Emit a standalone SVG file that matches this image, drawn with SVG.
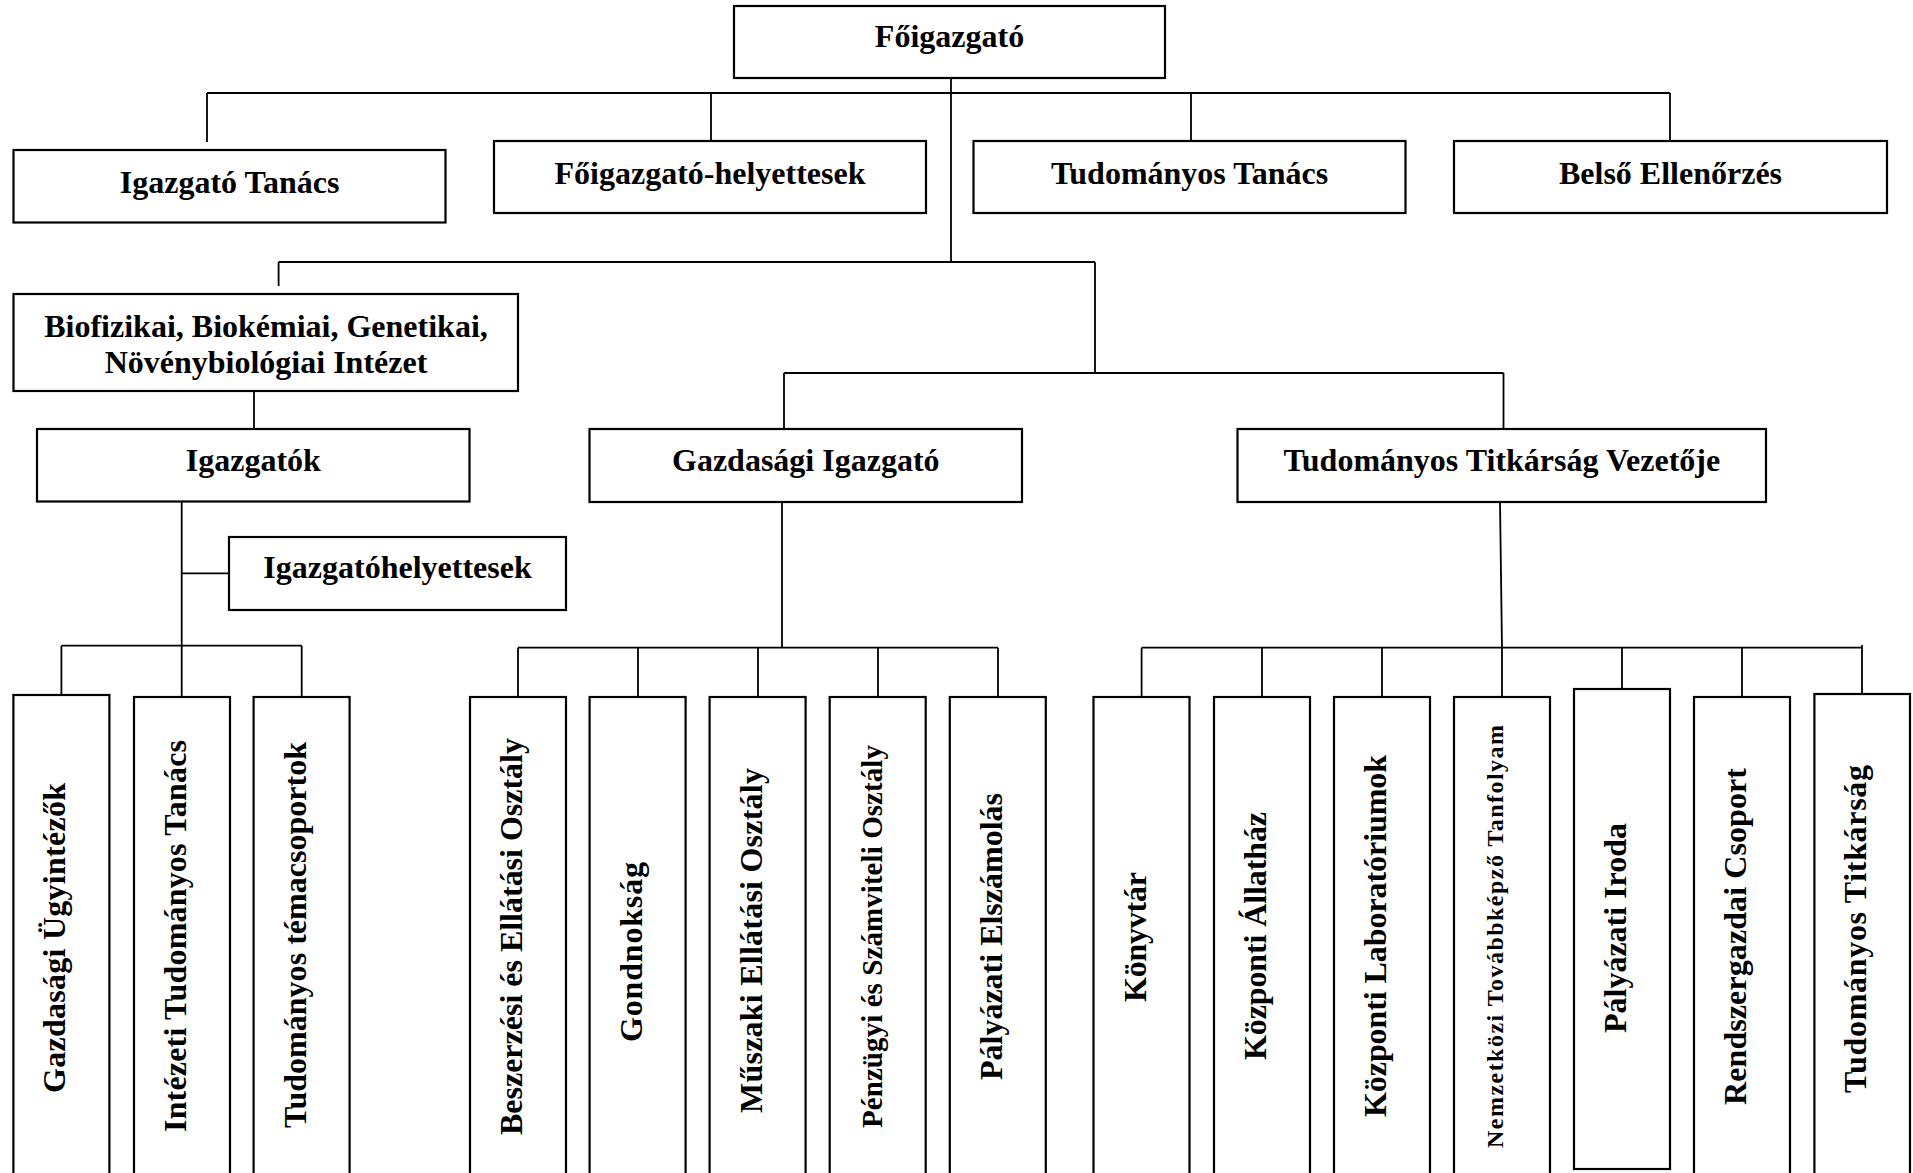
<svg xmlns="http://www.w3.org/2000/svg" width="1913" height="1173" viewBox="0 0 1913 1173">
<style>
.box{fill:#fff;stroke:#000;stroke-width:2.2}
.c{fill:none;stroke:#000;stroke-width:1.8}
.t{font-family:"Liberation Serif","Times New Roman",serif;font-weight:bold;font-size:32px;fill:#000;text-anchor:middle}
.s{font-size:24px}
.m{font-size:29px}
</style>
<rect width="1913" height="1173" fill="#fff"/>
<g id="connectors">
<path class="c" d="M951,78V262"/>
<path class="c" d="M207,93H1670M207,93V142M711,93V141M1191,93V141M1670,93V141"/>
<path class="c" d="M278.6,262H1095M278.6,262V286M1095,262V373"/>
<path class="c" d="M784,373H1503.5M784,373V429M1503.5,373V429"/>
<path class="c" d="M254,391V429"/>
<path class="c" d="M181.7,502V645.7M181.7,573.3H229"/>
<path class="c" d="M61.4,645.7H301.7M61.4,645.7V695M181.7,645.7V697M301.7,645.7V697"/>
<path class="c" d="M782,502V647.7"/>
<path class="c" d="M518,647.7H998M518,647.7V697M638,647.7V697M758,647.7V697M878,647.7V697M998,647.7V697"/>
<path class="c" d="M1500,502L1502,647.7"/>
<path class="c" d="M1141.6,647.7H1862M1141.6,647.7V697M1262,647.7V697M1382,647.7V697M1502,647.7V697M1622,647.7V689M1742,647.7V697M1862,645V694"/>
</g>
<g id="n-foigazgato"><rect class="box" x="734" y="6" width="431" height="72"/><text class="t" x="949.5" y="47">Főigazgató</text></g>
<g id="n-igazgato-tanacs"><rect class="box" x="13.5" y="150" width="432" height="72.5"/><text class="t" x="229.6" y="193">Igazgató Tanács</text></g>
<g id="n-foig-helyettesek"><rect class="box" x="494" y="141" width="432" height="72"/><text class="t" x="710" y="184">Főigazgató-helyettesek</text></g>
<g id="n-tud-tanacs"><rect class="box" x="973.5" y="141" width="432" height="72"/><text class="t" x="1189.5" y="184">Tudományos Tanács</text></g>
<g id="n-belso"><rect class="box" x="1454" y="141" width="433" height="72"/><text class="t" x="1670.5" y="184">Belső Ellenőrzés</text></g>
<g id="n-biofizikai"><rect class="box" x="13.5" y="294" width="504.5" height="97"/><text class="t" x="266" y="337">Biofizikai, Biokémiai, Genetikai,</text><text class="t" x="266" y="373">Növénybiológiai Intézet</text></g>
<g id="n-igazgatok"><rect class="box" x="37" y="429" width="432.5" height="72.5"/><text class="t" x="253.3" y="471">Igazgatók</text></g>
<g id="n-igazgatohelyettesek"><rect class="box" x="229" y="537" width="337" height="73"/><text class="t" x="397.5" y="578">Igazgatóhelyettesek</text></g>
<g id="n-gazd-igazgato"><rect class="box" x="589.5" y="429" width="432.5" height="73"/><text class="t" x="805.8" y="471">Gazdasági Igazgató</text></g>
<g id="n-tud-titk-vezetoje"><rect class="box" x="1237.5" y="429" width="528.5" height="73"/><text class="t" x="1501.8" y="471">Tudományos Titkárság Vezetője</text></g>

<g id="n-gazd-ugyintezok"><rect class="box" x="13.4" y="695" width="96" height="490"/><text class="t" transform="translate(65.4,938) rotate(-90)" textLength="310">Gazdasági Ügyintézők</text></g>
<g id="n-intezeti-tud-tanacs"><rect class="box" x="134" y="697" width="96" height="490"/><text class="t" transform="translate(186,936) rotate(-90)" textLength="392">Intézeti Tudományos Tanács</text></g>
<g id="n-tud-temacsoportok"><rect class="box" x="253.6" y="697" width="96" height="490"/><text class="t" transform="translate(305.6,935) rotate(-90)" textLength="386">Tudományos témacsoportok</text></g>
<g id="n-beszerzesi"><rect class="box" x="470" y="697" width="96" height="490"/><text class="t" transform="translate(522,936.5) rotate(-90)" textLength="397">Beszerzési és Ellátási Osztály</text></g>
<g id="n-gondnoksag"><rect class="box" x="589.6" y="697" width="96" height="490"/><text class="t" transform="translate(641.6,952) rotate(-90)" textLength="180">Gondnokság</text></g>
<g id="n-muszaki"><rect class="box" x="709.6" y="697" width="96" height="490"/><text class="t" transform="translate(761.6,940.5) rotate(-90)" textLength="345">Műszaki Ellátási Osztály</text></g>
<g id="n-penzugyi"><rect class="box" x="829.7" y="697" width="96" height="490"/><text class="t m" transform="translate(881.7,936.5) rotate(-90)" textLength="383">Pénzügyi és Számviteli Osztály</text></g>
<g id="n-palyazati-elszamolas"><rect class="box" x="949.8" y="697" width="96" height="490"/><text class="t" transform="translate(1001.8,936.5) rotate(-90)" textLength="287">Pályázati Elszámolás</text></g>
<g id="n-konyvtar"><rect class="box" x="1093.5" y="697" width="96" height="490"/><text class="t" transform="translate(1145.6,937) rotate(-90)" textLength="130">Könyvtár</text></g>
<g id="n-kozp-allathaz"><rect class="box" x="1214" y="697" width="96" height="490"/><text class="t" transform="translate(1266,936) rotate(-90)" textLength="248">Központi Állatház</text></g>
<g id="n-kozp-lab"><rect class="box" x="1334" y="697" width="96" height="490"/><text class="t" transform="translate(1386,936) rotate(-90)" textLength="362">Központi Laboratóriumok</text></g>
<g id="n-nemzetkozi"><rect class="box" x="1454" y="697" width="96" height="490"/><text class="t s" transform="translate(1503,936.5) rotate(-90)" textLength="423">Nemzetközi Továbbképző Tanfolyam</text></g>
<g id="n-palyazati-iroda"><rect class="box" x="1574" y="689" width="96" height="480"/><text class="t" transform="translate(1626,928) rotate(-90)" textLength="210">Pályázati Iroda</text></g>
<g id="n-rendszergazdai"><rect class="box" x="1694" y="697" width="96" height="490"/><text class="t" transform="translate(1746,936.5) rotate(-90)" textLength="337">Rendszergazdai Csoport</text></g>
<g id="n-tud-titkarsag"><rect class="box" x="1814.4" y="694" width="95.6" height="490"/><text class="t" transform="translate(1866,929) rotate(-90)" textLength="328">Tudományos Titkárság</text></g>
</svg>
